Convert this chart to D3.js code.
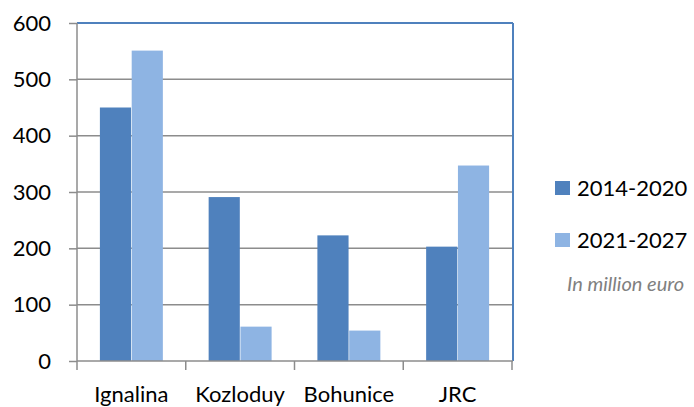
<!DOCTYPE html>
<html><head><meta charset="utf-8">
<script src="https://cdn.jsdelivr.net/npm/d3@7"></script>
<style>body{margin:0;background:#fff;}svg{display:block;font-family:"Lato",sans-serif;}</style>
</head><body>
<svg id="c" width="694" height="407"></svg>
<script>
const categories = ["Ignalina","Kozloduy","Bohunice","JRC"];
const seriesNames = ["2014-2020","2021-2027"];
const values2014 = [450, 291, 223, 203];
const values2021 = [551, 61, 54, 347];
const yTicks = [0,100,200,300,400,500,600];
const colors = ["#4F81BD","#8EB4E3"];

const svg = d3.select("#c");
const L=77, R=512, T=23, B=361;
const x = d3.scaleBand().domain(categories).range([L,R]).paddingInner(0).paddingOuter(0);
const y = d3.scaleLinear().domain([0,600]).range([B,T]);
const inner = d3.scaleBand().domain(seriesNames).range([0,x.bandwidth()]).paddingInner(0.02).paddingOuter(0.72);

// gridlines
svg.append("g").selectAll("line").data(yTicks.filter(d=>d>0&&d<600)).join("line")
  .attr("x1",L).attr("x2",R).attr("y1",d=>y(d)).attr("y2",d=>y(d))
  .attr("stroke","#8c8c8c").attr("stroke-width",1.5);

// bars
const data = categories.map((c,i)=>({c, v:[values2014[i], values2021[i]]}));
const g = svg.append("g");
data.forEach(d=>{
  seriesNames.forEach((s,j)=>{
    g.append("rect").attr("x",x(d.c)+inner(s)).attr("width",inner.bandwidth())
      .attr("y",y(d.v[j])).attr("height",B-y(d.v[j])).attr("fill",colors[j]);
  });
});

// top and right border blue
svg.append("line").attr("x1",L).attr("x2",R+1).attr("y1",T).attr("y2",T).attr("stroke","#4F81BD").attr("stroke-width",2);
svg.append("line").attr("x1",R+1).attr("x2",R+1).attr("y1",T).attr("y2",B).attr("stroke","#4F81BD").attr("stroke-width",2);

// y axis
const ya = svg.append("g").attr("transform",`translate(${L},0)`)
  .call(d3.axisLeft(y).tickValues(yTicks).tickSize(8).tickPadding(18));
ya.select(".domain").attr("stroke","#8c8c8c").attr("stroke-width",1.5).attr("d",`M0,${T}V${B}`);
ya.selectAll(".tick line").attr("stroke","#8c8c8c").attr("stroke-width",1.5);
ya.selectAll("text").attr("font-size",22).attr("fill","#000").attr("font-family","Lato");

// x axis
const xa = svg.append("g").attr("transform",`translate(0,${B})`)
  .call(d3.axisBottom(x).tickSize(0).tickPadding(0));
xa.select(".domain").attr("stroke","#8c8c8c").attr("stroke-width",1.5).attr("d",`M${L},0H${R+1}`);
xa.selectAll("text").attr("font-size",22).attr("fill","#000").attr("font-family","Lato")
  .attr("dy",null).attr("y",41);
// category boundary ticks
const bounds = categories.map(c=>x(c)).concat([R]);
svg.append("g").selectAll("line").data(bounds).join("line")
  .attr("x1",d=>d).attr("x2",d=>d).attr("y1",B).attr("y2",B+9)
  .attr("stroke","#8c8c8c").attr("stroke-width",1.5);

// legend
const lg = svg.append("g");
seriesNames.forEach((s,i)=>{
  const yy = 188 + i*52;
  lg.append("rect").attr("x",555).attr("y",yy-7).attr("width",15).attr("height",14).attr("fill",colors[i]);
  lg.append("text").attr("x",577).attr("y",yy).attr("dy","0.35em").attr("font-size",22).attr("fill","#000").text(s);
});
svg.append("text").attr("x",567).attr("y",291).attr("font-size",20)
  .attr("font-style","italic").attr("fill","#808080").text("In million euro");
</script>
</body></html>
